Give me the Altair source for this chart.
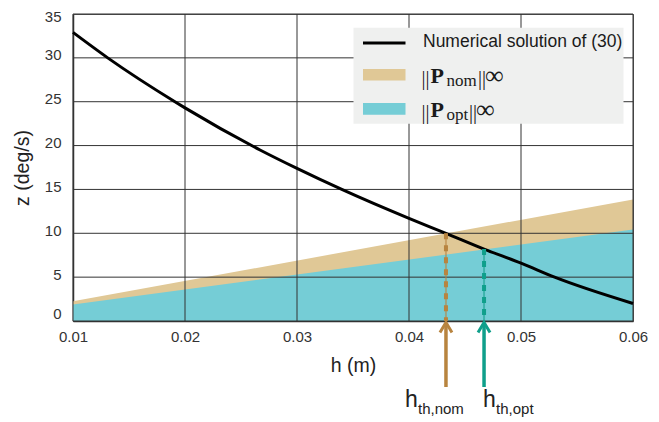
import altair as alt
import pandas as pd

# ---------------- data ----------------
h_curve = [0.01, 0.0131, 0.0191, 0.02, 0.0267, 0.03, 0.034, 0.04, 0.0433, 0.0467, 0.05, 0.053, 0.06]
z_curve = [32.9, 30.0, 25.0, 24.3, 19.5, 17.4, 15.0, 11.7, 10.0, 8.2, 6.6, 5.0, 2.0]

h_band = [0.01, 0.06]
p_nom = [2.25, 13.85]
p_opt = [1.88, 10.42]

th_names = ["nom", "opt"]
th_h = [0.0433, 0.0467]
th_z = [10.0, 8.2]

x_ticks = [0.01, 0.02, 0.03, 0.04, 0.05, 0.06]
y_ticks = [0, 5, 10, 15, 20, 25, 30, 35]

# ---------------- style ----------------
W, H = 560, 307
C_NOM = "#E0C896"
C_OPT = "#75CDD6"
C_NOM_D = "#B8843F"
C_OPT_D = "#0F9F8B"
C_GRID = "#333333"
SANS = "Liberation Sans"
SERIF = "Liberation Serif"

df_curve = pd.DataFrame({"h": h_curve, "z": z_curve})
df_band = pd.DataFrame({"h": h_band, "nom": p_nom, "opt": p_opt})
df_th = pd.DataFrame({"name": th_names, "h": th_h, "z": th_z, "zero": [0, 0]})
df_xt = pd.DataFrame({"h": x_ticks})
df_yt = pd.DataFrame({"z": y_ticks})
one = pd.DataFrame({"a": [0]})

xs = alt.Scale(domain=[0.01, 0.06], nice=False, zero=False)
ys = alt.Scale(domain=[0, 35], nice=False, zero=False)
cs = alt.Scale(domain=th_names, range=[C_NOM_D, C_OPT_D])

x_axis = alt.Axis(values=x_ticks, format=".2f", title="h (m)", grid=False, ticks=False,
                  labelPadding=8, labelFontSize=15, labelFont=SANS, labelColor="#333",
                  titleFontSize=19.5, titleFont=SANS, titleFontWeight="normal", titleColor="#222",
                  titlePadding=12, domainColor="#333", domainWidth=1.5, labelFlush=False)
y_axis = alt.Axis(values=y_ticks, format="d", title="z (deg/s)", grid=False, ticks=False,
                  labelPadding=12, labelFontSize=15, labelFont=SANS, labelColor="#333",
                  labelOffset={"expr": "datum.value == 0 ? -8 : (datum.value == 35 ? 2 : -3)"},
                  titleFontSize=19.5, titleFont=SANS, titleFontWeight="normal", titleColor="#222",
                  titlePadding=12, domainColor="#333", domainWidth=1.5)


def X(f):
    return alt.X(f + ":Q", scale=xs, axis=x_axis)


def Y(f):
    return alt.Y(f + ":Q", scale=ys, axis=y_axis)


area_nom = alt.Chart(df_band).mark_area(color=C_NOM, opacity=1).encode(x=X("h"), y=Y("nom"))
area_opt = alt.Chart(df_band).mark_area(color=C_OPT, opacity=1).encode(x=X("h"), y=Y("opt"))

grid_v = alt.Chart(df_xt).mark_rule(color=C_GRID, strokeWidth=1).encode(
    x=X("h"), y=alt.value(0), y2=alt.value(H))
grid_h = alt.Chart(df_yt).mark_rule(color=C_GRID, strokeWidth=1).encode(
    y=Y("z"), x=alt.value(0), x2=alt.value(W))

curve = alt.Chart(df_curve).mark_line(color="black", strokeWidth=3, interpolate="monotone").encode(
    x=X("h"), y=Y("z"))

th_pale = alt.Chart(df_th).mark_rule(strokeWidth=2, opacity=0.55).encode(
    x=X("h"), y=Y("z"), y2="zero:Q", color=alt.Color("name:N", scale=cs, legend=None))
th_dash = alt.Chart(df_th).mark_rule(strokeWidth=4, strokeDash=[6, 6]).encode(
    x=X("h"), y=Y("z"), y2="zero:Q", color=alt.Color("name:N", scale=cs, legend=None))

shaft = alt.Chart(df_th).mark_rule(strokeWidth=3.5).encode(
    x=X("h"), y=alt.value(H + 2), y2=alt.value(H + 66),
    color=alt.Color("name:N", scale=cs, legend=None))
head = alt.Chart(df_th).mark_point(shape="M-0.6,1L0,0L0.6,1", size=400, filled=False,
                                   strokeWidth=3, opacity=1).encode(
    x=X("h"), y=alt.value(H + 1.5), color=alt.Color("name:N", scale=cs, legend=None))


def th_label(name, s, size, dx, y):
    return alt.Chart(df_th).transform_filter(f"datum.name == '{name}'").mark_text(
        font=SANS, fontSize=size, align="left", baseline="alphabetic", color="#222", dx=dx).encode(
        x=X("h"), y=alt.value(y), text=alt.value(s))


labels = [
    th_label("nom", "h", 23, -41, 393),
    th_label("nom", "th,nom", 15, -28, 400),
    th_label("opt", "h", 23, -1, 393),
    th_label("opt", "th,opt", 15, 12, 400),
]

# ---------------- custom legend ----------------
leg_box = alt.Chart(one).mark_rect(color="#EFF0EF").encode(
    x=alt.value(280.5), x2=alt.value(550.5), y=alt.value(13.7), y2=alt.value(109.7))
leg_line = alt.Chart(one).mark_rule(color="black", strokeWidth=3).encode(
    x=alt.value(290), x2=alt.value(332.5), y=alt.value(29))
leg_nom = alt.Chart(one).mark_rect(color=C_NOM).encode(
    x=alt.value(290), x2=alt.value(332.5), y=alt.value(55), y2=alt.value(66.4))
leg_opt = alt.Chart(one).mark_rect(color=C_OPT).encode(
    x=alt.value(290), x2=alt.value(332.5), y=alt.value(89), y2=alt.value(100.7))


def txt(s, x, y, size, font=SERIF, weight="normal", baseline="alphabetic"):
    return alt.Chart(one).mark_text(font=font, fontSize=size, fontWeight=weight, align="left",
                                    baseline=baseline, color="#1a1a1a").encode(
        x=alt.value(x), y=alt.value(y), text=alt.value(s))


leg_texts = [
    txt("Numerical solution of (30)", 350, 27.5, 17.5, font=SANS, baseline="middle"),
    txt("||", 348.5, 71, 20),
    txt("P", 357.5, 69, 22, weight="bold"),
    txt("nom", 373.5, 72, 17),
    txt("||", 405, 71, 20),
    txt("\u221e", 412, 70, 26),
    txt("||", 348.5, 104.5, 20),
    txt("P", 357.5, 102.5, 22, weight="bold"),
    txt("opt", 373.5, 105.5, 17),
    txt("||", 396, 104.5, 20),
    txt("\u221e", 403, 103.5, 26),
]

chart = alt.layer(
    area_nom, area_opt, grid_v, grid_h, curve, th_pale, th_dash,
    leg_box, leg_line, leg_nom, leg_opt, *leg_texts,
    shaft, head, *labels,
).properties(
    width=W, height=H,
    autosize=alt.AutoSizeParams(type="none"),
    padding={"left": 65, "top": 6, "right": 18, "bottom": 100},
    background="white",
).configure_view(stroke="#555", strokeWidth=1)

chart.save("out.html", embed_options={"renderer": "svg", "actions": False})
